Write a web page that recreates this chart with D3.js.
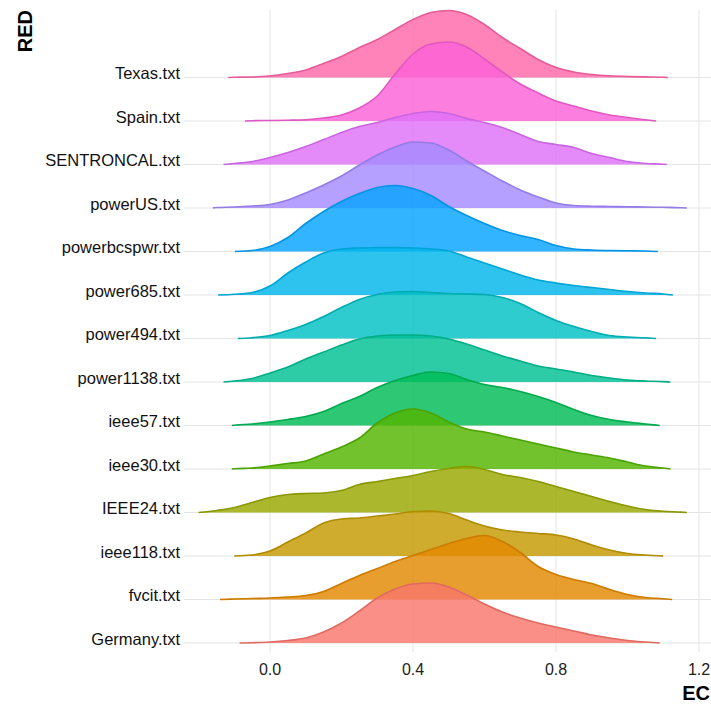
<!DOCTYPE html>
<html>
<head>
<meta charset="utf-8">
<script src="https://cdn.jsdelivr.net/npm/d3@7/dist/d3.min.js"></script>
<style>
  html, body { margin: 0; padding: 0; background: #fff; }
  svg { display: block; }
</style>
</head>
<body>
<svg id="chart" width="711" height="711"></svg>
<script>
// ---- data -------------------------------------------------------------
const categories = ["Germany.txt","fvcit.txt","ieee118.txt","IEEE24.txt","ieee30.txt","ieee57.txt",
  "power1138.txt","power494.txt","power685.txt","powerbcspwr.txt","powerUS.txt",
  "SENTRONCAL.txt","Spain.txt","Texas.txt"];

// common EC grid for the density estimates
const ecGrid = [-0.20,-0.15,-0.10,-0.05,0.00,0.05,0.10,0.15,0.20,0.25,0.30,0.35,0.40,0.45,
  0.50,0.55,0.60,0.65,0.70,0.75,0.80,0.85,0.90,0.95,1.00,1.05,1.10,1.15];

// density heights (scaled) per network
const densGermany     = [0,0,0,0.3,1,2.5,5,11,20,32,45,54,59,60,56,48,39,31,25,20,16,12,8,5,2.5,1,0,0];
const densFvcit       = [0,0,0.5,1,1.5,2.5,4,8,16,24,31,38,44,50,56,61,64,58,47,33,25,20,16,10,5,2,0.8,0];
const densIeee118     = [0,0,0.2,1,5,14,23,33,37,38,40,42,44.5,45,42.5,36,30,26,24,22.5,21,17,11,6,2.5,1,0,0];
const densIEEE24      = [0.3,2,5,10,15,18,19,19.5,22,28,31,34,37,41,44,46,43,38,35,31,26,21,16,11,6.5,3,1.2,0.4];
const densIeee30      = [0,0,0.3,1,3,5.5,8,15,22,31,46,56,60,56,47,40,37,33,29,25,21,17,14,11,7,3,1,0];
const densIeee57      = [0,0,0.3,1.5,3.5,6,9,14,22,29,38,45,50,53.5,52,46,41,38,34,29,23,16,10,6,3.5,1.5,0,0];
const densPower1138   = [0,0,1,3.5,9,15,23,30,37,43,46,47,47,46,43,38,32,26,21,16,13,10,6.5,4,2,1,0.4,0];
const densPower494    = [0,0,0.2,0.8,3,8,14,22,31,39,44,46.5,47,46,45,44.5,44,41,35,26,18,12,7,3,1.5,0.7,0,0];
const densPower685    = [0,0.2,0.8,2.5,9,22,33,42,46,47,47.5,47.5,47,46,44,38,32,26,20,15,12,9.5,7.5,5.5,3.5,2,1,0];
const densPowerbcspwr = [0,0,0.3,1,5,14,28,40,50,58,64,66,63,56,45,36,28,21,16,12,6,2.5,1.5,1,0.8,0.5,0,0];
const densPowerUS     = [0,0.5,1,2,3.5,8,15,23,32,43,53,61,66,65,58,47,37,27,18,11,5,2.5,1.8,1.5,1.2,1,0.7,0.3];
const densSENTRONCAL  = [0,0,1,3,7,12,18,25,32,38,42,47,51,53,51,46,42,37,30,23,20,17,11,7,3,1,0.3,0];
const densSpain       = [0,0,0,0.3,0.5,0.8,1.3,3,6,13,25,47,67,77,79,74,62,49,37,28,20,15,10,6,3.5,1.2,0,0];
const densTexas       = [0,0,0.3,0.5,1.5,4,7.5,14,21,30,38,48,58,65,67,63,53,40,29,18,10,5.5,3,1.7,1,0.6,0.3,0];

// data range (min, max EC) of each network
const rangeMin = [-0.085,-0.14,-0.10,-0.20,-0.107,-0.107,-0.13,-0.09,-0.145,-0.098,-0.16,-0.13,-0.07,-0.117];
const rangeMax = [1.09,1.125,1.10,1.166,1.12,1.09,1.12,1.08,1.127,1.085,1.166,1.11,1.08,1.113];

const xTicks = [0.0, 0.4, 0.8, 1.2];
const xTickLabels = ["0.0","0.4","0.8","1.2"];

const densities = [densGermany,densFvcit,densIeee118,densIEEE24,densIeee30,densIeee57,
  densPower1138,densPower494,densPower685,densPowerbcspwr,densPowerUS,densSENTRONCAL,densSpain,densTexas];

// ---- ggplot hue palette (polar LUV) ----------------------------------
function hclLuv(h, c, l) {
  const hr = h * Math.PI / 180;
  const U = c * Math.cos(hr), V = c * Math.sin(hr);
  const Xn = 95.047, Yn = 100, Zn = 108.883;
  const den = Xn + 15 * Yn + 3 * Zn;
  const un = 4 * Xn / den, vn = 9 * Yn / den;
  const Y = l > 8 ? Yn * Math.pow((l + 16) / 116, 3) : Yn * l / 903.3;
  const u = U / (13 * l) + un, v = V / (13 * l) + vn;
  const X = 9 * Y * u / (4 * v);
  const Z = -X / 3 - 5 * Y + 3 * Y / v;
  const x = X / 100, y = Y / 100, z = Z / 100;
  const lin = [
    3.240479 * x - 1.537150 * y - 0.498535 * z,
    -0.969256 * x + 1.875992 * y + 0.041556 * z,
    0.055648 * x - 0.204043 * y + 1.057311 * z
  ];
  const g = lin.map(t => {
    const s = t <= 0.0031308 ? 12.92 * t : 1.055 * Math.pow(t, 1 / 2.4) - 0.055;
    return Math.round(255 * Math.max(0, Math.min(1, s)));
  });
  return d3.rgb(g[0], g[1], g[2]).formatHex();
}
const n = categories.length;
const palette = d3.range(n).map(i => hclLuv(15 + i * 360 / n, 100, 65));

// ---- layout -----------------------------------------------------------
const svg = d3.select("#chart");
const panel = { left: 184, right: 711, top: 10, bottom: 652 };

const x = d3.scaleLinear().domain([0, 1.2]).range([270, 699]);
const y = d3.scalePoint().domain(categories).range([643, 77.5]);
const h = d3.scaleLinear().domain([0, 80]).range([0, 80]);

// grid
const grid = svg.append("g");
grid.selectAll("line.h").data(categories).join("line")
  .attr("x1", panel.left).attr("x2", panel.right)
  .attr("y1", d => y(d)).attr("y2", d => y(d))
  .attr("stroke", "#e4e4e4").attr("stroke-width", 1);
grid.selectAll("line.v").data(xTicks).join("line")
  .attr("x1", d => x(d)).attr("x2", d => x(d))
  .attr("y1", panel.top).attr("y2", panel.bottom)
  .attr("stroke", "#e4e4e4").attr("stroke-width", 1);

// ridges: drawn from the top row down so lower rows sit on top
const area = d3.area().x(d => x(d[0])).y0(d => d[2]).y1(d => d[2] - h(d[1])).curve(d3.curveMonotoneX);
const line = d3.line().x(d => x(d[0])).y(d => d[2] - h(d[1])).curve(d3.curveMonotoneX);

const ridges = svg.append("g");
for (let i = n - 1; i >= 0; i--) {
  const base = y(categories[i]);
  const pts = [[rangeMin[i], 0, base]];
  ecGrid.forEach((g, j) => {
    if (g > rangeMin[i] + 1e-9 && g < rangeMax[i] - 1e-9) pts.push([g, densities[i][j], base]);
  });
  pts.push([rangeMax[i], 0, base]);
  ridges.append("path").datum(pts).attr("d", area)
    .attr("fill", palette[i]).attr("fill-opacity", 0.82).attr("stroke", "none");
  ridges.append("path").datum(pts).attr("d", line)
    .attr("fill", "none").attr("stroke", d3.color(palette[i]).darker(0.3).formatHex())
    .attr("stroke-width", 1.6);
}

// y labels
svg.append("g").selectAll("text").data(categories).join("text")
  .attr("x", 180).attr("y", d => y(d) + 1.5)
  .attr("text-anchor", "end")
  .attr("font-family", "Liberation Sans, Arial, sans-serif")
  .attr("font-size", 16.5).attr("fill", "#111")
  .text(d => d);

// x tick labels
svg.append("g").selectAll("text").data(xTicks).join("text")
  .attr("x", d => x(d)).attr("y", 675)
  .attr("text-anchor", "middle")
  .attr("font-family", "Liberation Sans, Arial, sans-serif")
  .attr("font-size", 16).attr("fill", "#222")
  .text((d, i) => xTickLabels[i]);

// axis titles
svg.append("text").attr("x", 710).attr("y", 700)
  .attr("text-anchor", "end")
  .attr("font-family", "Liberation Sans, Arial, sans-serif")
  .attr("font-size", 20).attr("font-weight", "bold").attr("fill", "#000")
  .text("EC");
svg.append("text").attr("transform", "translate(32,10) rotate(-90)")
  .attr("text-anchor", "end")
  .attr("font-family", "Liberation Sans, Arial, sans-serif")
  .attr("font-size", 20).attr("font-weight", "bold").attr("fill", "#000")
  .text("RED");
</script>
</body>
</html>
